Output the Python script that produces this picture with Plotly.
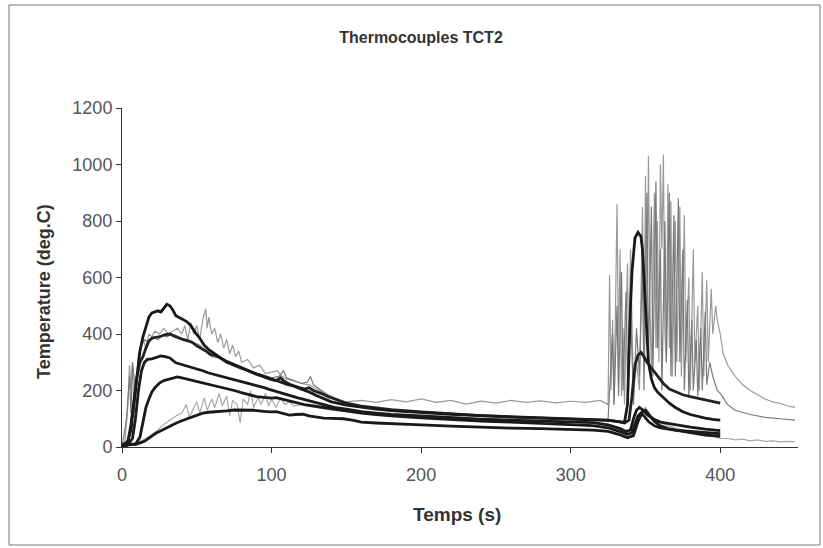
import plotly.graph_objects as go

# ---------------- data ----------------
t_a = [0,3,6,8,10,12,14,16,18,20,22,24,26,28,30,32,34,36,38,40,43,46,49,52,55,58,62,66,70,75,80,85,90,95,100,105,110,115,120,125,130,140,150,160,170,180,200,220,240,260,280,300,315,325,332,336,338,339,340,341,342,343,345,347,348,349,350,351,352,354,356,358,362,366,370,375,380,385,390,395,400]
y_a = [0,5,60,150,260,340,390,430,460,475,478,482,478,490,505,500,485,465,460,455,445,430,405,385,360,345,330,318,300,290,278,268,258,250,240,232,222,215,205,195,182,160,148,140,134,129,122,116,111,107,104,101,98,95,90,88,150,350,500,620,700,740,760,745,700,600,480,380,300,240,210,195,175,155,140,125,115,108,102,98,95]

t_b = [0,4,6,8,10,12,14,16,18,20,23,26,29,32,35,38,41,44,47,50,53,56,59,62,65,70,75,80,85,90,95,100,103,106,108,112,117,122,125,128,133,138,145,150,160,170,180,200,220,240,260,280,300,315,325,332,336,339,341,343,345,347,349,351,354,358,362,366,370,375,380,385,390,395,400]
y_b = [5,20,80,170,250,300,320,350,375,385,388,392,398,400,392,385,380,376,370,358,350,340,328,325,318,303,292,280,268,258,248,238,235,245,235,222,213,205,210,200,190,178,165,155,145,138,132,124,117,111,106,102,99,97,94,90,85,95,180,290,325,335,320,300,280,250,225,205,195,185,178,172,165,160,155]

t_c = [0,4,7,9,11,13,15,17,20,23,26,29,32,36,40,45,49,54,58,63,68,73,78,81,86,90,95,99,104,108,112,117,122,127,132,137,142,150,160,170,180,200,220,240,260,280,300,315,325,333,337,340,342,344,346,348,351,355,360,370,380,390,400]
y_c = [5,10,30,100,200,270,300,310,312,318,322,320,315,298,292,285,280,270,262,255,248,242,235,231,224,218,210,203,196,190,183,175,168,160,153,146,140,134,125,120,115,110,104,99,95,92,90,86,78,65,55,60,100,130,140,132,115,100,88,78,70,63,58]

t_d = [0,5,9,12,14,16,18,20,22,25,28,31,34,37,40,44,48,52,56,60,65,70,75,81,86,90,95,100,103,108,112,117,122,127,132,137,145,150,160,170,180,200,220,240,260,280,300,315,325,333,338,341,343,345,347,349,352,356,360,370,380,390,400]
y_d = [5,8,10,35,90,140,170,195,210,226,235,240,245,248,245,240,235,228,224,220,213,208,200,191,183,178,176,173,175,168,162,155,150,146,142,138,132,128,120,115,110,103,97,92,88,84,80,76,68,55,45,50,80,110,120,110,90,75,68,60,55,50,47]

t_e = [0,5,10,15,19,23,27,31,36,40,45,50,54,58,63,70,75,81,88,95,99,103,108,112,116,121,125,130,135,140,148,155,160,170,180,190,200,220,240,260,280,300,315,325,332,338,342,345,348,350,353,356,360,365,370,380,390,400]
y_e = [10,10,10,20,35,50,60,72,84,93,102,112,120,123,124,128,131,131,130,126,124,125,117,113,115,116,110,105,102,101,100,94,88,85,82,80,78,74,70,67,65,63,60,55,45,33,40,90,125,130,110,90,75,65,60,50,42,38]

t_f = [0,5,8,12,16,20,24,28,32,36,40,43,45,48,50,52,55,57,60,62,65,67,70,72,74,77,79,81,84,86,88,91,93,96,98,100,103,106,109,112,115,120,130,140,150,170,200,250,300,330,338,342,346,350,354,358,365,375,385,395,400,405,410,415,420,425,430,435,440,445,450]
y_f = [0,5,10,20,30,45,60,80,95,110,120,150,105,140,160,120,175,130,170,140,190,145,180,110,165,150,85,170,150,200,140,175,150,190,145,170,140,175,150,160,145,150,140,130,125,115,105,90,80,65,50,80,120,140,110,90,75,60,50,40,30,30,25,28,22,25,20,22,18,20,18]

t_g = [0,2,4,5,6,7,8,10,12,14,16,18,20,22,25,28,31,34,37,40,42,44,46,48,50,52,54,56,57,58,60,62,64,66,68,70,72,74,76,78,80,84,88,92,96,100,104,106,110,115,120,125,130,135,140,145,150,160,170,180,190,200,210,220,230,240,250,260,270,280,290,300,310,320,325,326,327,328,329,330,331,332,333,334,335,336,338,339,340,342,344,346,348,349,350,351,352,353,354,356,357,358,359,360,361,362,363,364,365,366,367,368,370,371,373,374,376,377,379,380,382,383,385,386,388,389,391,392,394,395,397,398,400,402,405,410,415,420,425,430,435,440,445,450]
y_g = [0,20,150,290,200,300,120,250,330,380,350,400,390,410,400,420,400,410,420,400,430,380,440,400,430,380,450,490,420,460,400,420,370,400,350,380,330,360,320,340,300,310,280,290,260,265,270,255,240,235,225,220,205,190,180,165,160,165,158,168,160,170,158,165,152,162,155,165,158,163,156,162,158,165,150,610,200,450,150,520,860,300,700,180,420,150,650,250,700,180,300,200,850,300,960,400,1030,500,250,900,350,800,300,1000,700,1035,400,300,930,350,870,250,800,300,850,250,820,300,600,200,700,300,500,200,620,250,590,300,560,400,500,450,400,330,290,250,220,200,185,170,160,155,145,140]

t_h = [0,3,5,6,7,9,11,13,15,18,21,24,27,30,33,36,40,44,48,52,56,60,65,70,75,80,85,90,95,100,105,108,110,115,120,124,126,128,135,140,150,200,250,300,325,328,329,331,332,334,335,337,338,340,342,344,346,348,349,351,352,354,355,357,358,360,361,363,364,366,367,369,370,372,373,375,376,378,379,381,382,384,385,387,388,390,391,393,395,398,400,405,410,420,430,440,450]
y_h = [0,100,250,120,300,200,330,360,380,370,390,380,395,390,400,395,385,380,370,360,340,320,315,300,285,275,270,262,255,245,250,270,245,235,225,230,250,220,195,175,150,122,108,100,95,400,150,500,180,620,200,550,250,500,150,420,250,650,200,900,300,850,250,940,350,700,200,800,300,900,250,820,250,880,300,700,200,520,180,450,200,380,180,420,200,480,220,300,250,200,190,150,130,115,105,100,95]

x_ticks = [0, 100, 200, 300, 400]
y_ticks = [0, 200, 400, 600, 800, 1000, 1200]

# ---------------- figure ----------------
fig = go.Figure()

def add(t, y, color, width):
    fig.add_trace(go.Scatter(x=t, y=y, mode="lines",
                             line=dict(color=color, width=width),
                             showlegend=False, hoverinfo="skip"))

add(t_f, y_f, "#a8a8a8", 1.2)
add(t_g, y_g, "#9a9a9a", 1.2)
add(t_h, y_h, "#7a7a7a", 1.2)
add(t_e, y_e, "#1a1a1a", 2.8)
add(t_d, y_d, "#1a1a1a", 2.8)
add(t_c, y_c, "#1a1a1a", 2.8)
add(t_b, y_b, "#222222", 2.8)
add(t_a, y_a, "#1a1a1a", 2.8)

font_family = "Liberation Sans, Arial, sans-serif"

# plot area in page pixels: x 122..798, y 108..447
L, R, T, B = 122, 798, 108, 447
W, H = 823, 548

def px(x):
    return (x - L) / (R - L)

def py(y):
    return (B - y) / (B - T)

fig.update_layout(
    width=W, height=H,
    margin=dict(l=L, r=W - R, t=T, b=H - B),
    paper_bgcolor="white", plot_bgcolor="white",
    font=dict(family=font_family, color="#333333", size=14),
    title=dict(text="Thermocouples TCT2", x=421 / W, xanchor="center",
               y=1 - 37 / H, yanchor="middle",
               font=dict(size=16, color="#333333", family=font_family, weight="bold")),
    xaxis=dict(range=[0, 452], tickvals=x_ticks, showgrid=False, zeroline=False,
               showline=True, linecolor="#333333", linewidth=1,
               ticks="outside", ticklen=5, tickcolor="#333333",
               ticklabelstandoff=6,
               tickfont=dict(size=18, color="#555555")),
    yaxis=dict(range=[0, 1200], tickvals=y_ticks, showgrid=False, zeroline=False,
               showline=True, linecolor="#333333", linewidth=1,
               ticks="outside", ticklen=5, tickcolor="#333333",
               tickfont=dict(size=18, color="#555555")),
    annotations=[
        dict(text="<b>Temps (s)</b>", xref="paper", yref="paper",
             x=px(457), y=py(514), xanchor="center", yanchor="middle",
             showarrow=False, font=dict(size=19, color="#333333")),
        dict(text="<b>Temperature (deg.C)</b>", xref="paper", yref="paper",
             x=px(44), y=py(292), xanchor="center", yanchor="middle",
             textangle=-90, showarrow=False, font=dict(size=18, color="#333333")),
    ],
    shapes=[
        dict(type="rect", xref="paper", yref="paper",
             x0=px(9), x1=px(820), y0=py(545), y1=py(5),
             line=dict(color="#777777", width=1)),
    ],
)

fig.write_html("out.html", config={"displayModeBar": False},
               post_script="document.body.style.margin='0';")
